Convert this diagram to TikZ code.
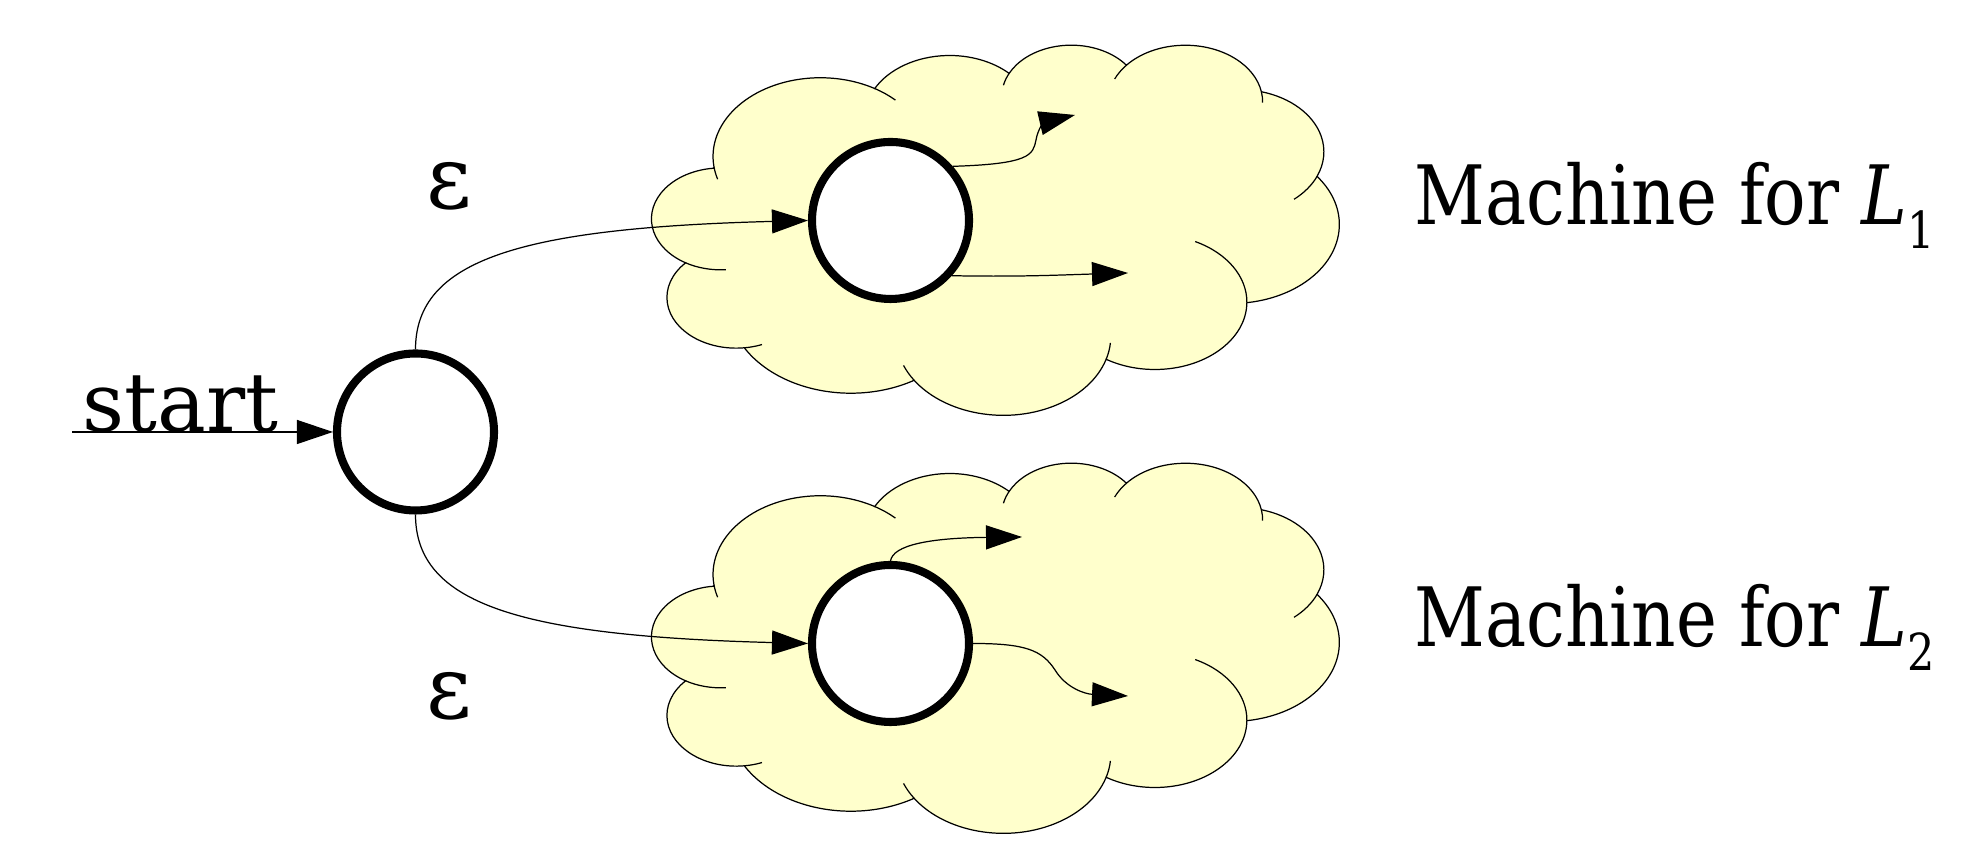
\documentclass[tikz,border=0pt]{standalone}
\usepackage{fontspec}
\setmainfont{DejaVu Serif}
\usepackage{graphicx}
\usepackage{tikz}
\usetikzlibrary{arrows.meta,positioning}
\definecolor{cloudfill}{HTML}{FFFFCC}

% LibreOffice-like cloud, #1 = top left corner
\newcommand\machinecloud[1]{%
\begin{scope}[shift={#1}]
\filldraw[cloudline] (0.6202,-1.2308)
  arc[start angle=-172.25,end angle=-300.37,x radius=1.0739cm,y radius=0.7871cm]
  arc[start angle=152.03,end angle=45.44,x radius=0.8481cm,y radius=0.6224cm]
  arc[start angle=153.50,end angle=37.36,x radius=0.6942cm,y radius=0.5092cm]
  arc[start angle=139.71,end angle=10.21,x radius=0.7724cm,y radius=0.5648cm]
  arc[start angle=74.77,end angle=-23.21,x radius=0.8481cm,y radius=0.6229cm]
  arc[start angle=37.55,end angle=-81.86,x radius=1.0774cm,y radius=0.7897cm]
  arc[start angle=-0.46,end angle=-121.98,x radius=0.9200cm,y radius=0.6738cm]
  arc[start angle=-16.84,end angle=-146.21,x radius=1.0738cm,y radius=0.7892cm]
  arc[start angle=-58.98,end angle=-150.20,x radius=1.2277cm,y radius=0.9030cm]
  arc[start angle=-83.31,end angle=-223.10,x radius=0.6934cm,y radius=0.5069cm]
  arc[start angle=-120.35,end angle=-264.11,x radius=0.6910cm,y radius=0.5092cm]
  -- cycle;
% inner strokes where the puffs overlap
\draw[cloudline,fill=none]
  (0.7392,-2.2569) arc[start angle=-85.55,end angle=-120.35,x radius=0.6910cm,y radius=0.5092cm]
  (1.0999,-3.0057) arc[start angle=-68.23,end angle=-83.31,x radius=0.6934cm,y radius=0.5069cm]
  (2.6215,-3.3634) arc[start angle=-146.21,end angle=-158.47,x radius=1.0738cm,y radius=0.7892cm]
  (4.5840,-2.9896) arc[start angle=-4.74,end angle=-16.84,x radius=1.0738cm,y radius=0.7892cm]
  (5.4317,-1.9758) arc[start angle=64.03,end angle=-0.46,x radius=0.9200cm,y radius=0.6738cm]
  (6.6505,-1.3240) arc[start angle=-23.21,end angle=-49.65,x radius=0.8481cm,y radius=0.6229cm]
  (6.0938,-0.4775) arc[start angle=10.21,end angle=-0.82,x radius=0.7724cm,y radius=0.5648cm]
  (4.6264,-0.3505) arc[start angle=156.29,end angle=139.71,x radius=0.7724cm,y radius=0.5648cm]
  (3.5143,-0.4130) arc[start angle=167.72,end angle=153.50,x radius=0.6942cm,y radius=0.5092cm]
  (2.2272,-0.4455) arc[start angle=59.63,end angle=45.72,x radius=1.0739cm,y radius=0.7871cm]
  (0.6562,-1.3523) arc[start angle=-163.19,end angle=-172.25,x radius=1.0739cm,y radius=0.7871cm];
\end{scope}}

% label right of a cloud, squeezed to the width it has in the drawing
\newcommand\machinelabel[1]{%
  \resizebox{5.2cm}{\height}{Machine for \textit{L}\raisebox{-0.24cm}{\fontsize{14.5}{15}\selectfont #1}}}

\begin{document}
\begin{tikzpicture}[font=\fontsize{23.3}{28}\selectfont,
  cloudline/.style={draw=black,fill=cloudfill,line width=0.35pt},
  statenode/.style={circle,draw=black,fill=white,line width=2.3pt,minimum size=1.57cm,inner sep=0pt},
  conn/.style={-{Triangle[length=3.6mm,width=2.4mm]},line width=0.35pt,color=black}]
\useasboundingbox (0,0) rectangle (19.66,8.5);

\machinecloud{(6.52,8.06)}
\machinecloud{(6.52,3.88)}

\node[statenode] (init) at (4.155,4.18) {};
\node[statenode] (first) at (8.905,6.295) {};
\node[statenode] (second) at (8.905,2.065) {};

\node[anchor=base west,inner sep=0pt] (startlbl) at (0.82,4.18) {start};
\node[font=\fontsize{25}{30}\selectfont,inner sep=0pt] (epsone) at (4.49,6.635) {ε};
\node[font=\fontsize{25}{30}\selectfont,inner sep=0pt] (epstwo) at (4.49,1.535) {ε};
\node[anchor=base west,inner sep=0pt] (labone) at (14.14,6.25) {\machinelabel{1}};
\node[anchor=base west,inner sep=0pt] (labtwo) at (14.14,2.03) {\machinelabel{2}};

\coordinate (entry) at (0.72,4.18);
\coordinate (oneup) at (10.75,7.35);
\coordinate (oneright) at (11.28,5.77);
\coordinate (twoup) at (10.22,3.13);
\coordinate (tworight) at (11.28,1.54);

\draw[conn] (entry) -- (init);
\draw[conn] (init.north) .. controls (4.155,5.9) and (5.2,6.22) .. (first.west);
\draw[conn] (init.south) .. controls (4.155,2.46) and (5.2,2.14) .. (second.west);

% arrows leaving the two machines
\draw[conn] (first.41) .. controls (10.3,6.86) and (10.33,6.95) .. (10.36,7.1)
  .. controls (10.38,7.22) and (10.45,7.28) .. (oneup);
\draw[conn] (first.-42) .. controls (10.2,5.73) and (10.6,5.75) .. (oneright);
\draw[conn] (second.north) .. controls (8.93,3.05) and (9.3,3.12) .. (twoup);
\draw[conn] (second.east) .. controls (10.25,2.065) and (10.42,2.0) .. (10.55,1.8)
  .. controls (10.66,1.62) and (10.85,1.56) .. (tworight);
\end{tikzpicture}
\end{document}
